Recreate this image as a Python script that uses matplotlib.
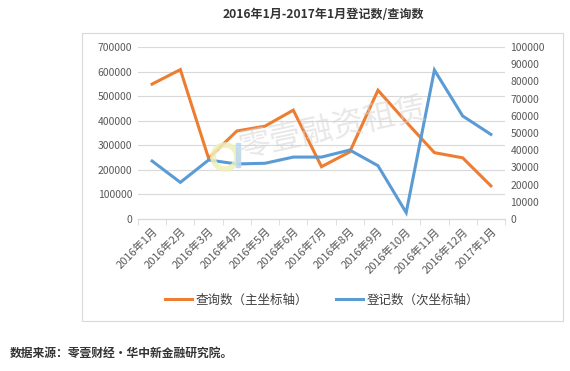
import matplotlib
matplotlib.use("Agg")
import matplotlib.pyplot as plt
from matplotlib.patches import Rectangle, Ellipse
import numpy as np

plt.rcParams['font.family'] = ['Noto Sans CJK SC', 'DejaVu Sans']

months = ["2016年1月", "2016年2月", "2016年3月", "2016年4月", "2016年5月", "2016年6月",
          "2016年7月", "2016年8月", "2016年9月", "2016年10月", "2016年11月", "2016年12月", "2017年1月"]
query_counts = [549000, 608000, 247000, 358000, 378000, 443000, 213000, 273000, 524000, 395000, 270000, 249000, 135000]
register_counts = [33700, 21300, 34300, 32000, 32400, 36000, 36000, 40100, 31000, 3700, 86600, 59900, 49200]
left_ticks = list(range(0, 700001, 100000))
right_ticks = list(range(0, 100001, 10000))

W, H = 570, 371
fig = plt.figure(figsize=(W / 100, H / 100), dpi=100)

# chart border
fig.patches.append(Rectangle((82 / W, 1 - 321 / H), (563 - 82) / W, (321 - 33) / H,
                             transform=fig.transFigure, fill=False, ec='#d9d9d9', lw=0.8))

ax = fig.add_axes([138 / W, 1 - 219 / H, (505 - 138) / W, (219 - 47) / H])
ax2 = ax.twinx()

x = np.arange(len(months))
ax.set_xlim(-0.5, len(months) - 0.5)
ax.set_ylim(0, 700000)
ax2.set_ylim(0, 100000)

ax.set_yticks(left_ticks)
ax.set_yticklabels([str(v) for v in left_ticks])
ax2.set_yticks(right_ticks)
ax2.set_yticklabels([str(v) for v in right_ticks])

ax.grid(axis='y', color='#d9d9d9', lw=0.8)
ax.set_axisbelow(True)

for a in (ax, ax2):
    for s in ('top', 'left', 'right'):
        a.spines[s].set_visible(False)
    a.spines['bottom'].set_color('#d9d9d9')
    a.tick_params(axis='y', length=0, labelsize=7.5, labelcolor='#595959', pad=4)

ax.set_xticks(x)
ax.set_xticklabels(months, rotation=45, ha='right', rotation_mode='anchor',
                   fontsize=8, color='#595959')
ax.tick_params(axis='x', which='major', length=0, pad=5)
ax.set_xticks(np.arange(-0.5, len(months), 1), minor=True)
ax.tick_params(axis='x', which='minor', length=4, color='#d9d9d9', direction='out')

l1, = ax.plot(x, query_counts, color='#ED7D31', lw=2.2, solid_joinstyle='miter', zorder=3)
l2, = ax2.plot(x, register_counts, color='#5B9BD5', lw=2.2, solid_joinstyle='miter', zorder=3)

# watermark
fig.text(333 / W, 1 - 128 / H, "零壹融资租赁", fontsize=23, color='#d4d4d4', alpha=0.55,
         rotation=12, ha='center', va='center', zorder=10)
fig.patches.append(Ellipse((225 / W, 1 - 157 / H), 24 / W, 24 / H, transform=fig.transFigure,
                           fill=False, ec='#eef0b8', lw=4, alpha=0.85, zorder=10))
fig.patches.append(Rectangle((236 / W, 1 - 167 / H), 4 / W, 24 / H, transform=fig.transFigure,
                             color='#bcd9f0', alpha=0.85, zorder=10))

fig.legend([l1, l2], ["查询数（主坐标轴）", "登记数（次坐标轴）"], loc='center',
           bbox_to_anchor=(322 / W, 1 - 300 / H), ncol=2, frameon=False,
           fontsize=9, handlelength=2.2, columnspacing=2.2, handletextpad=0.3,
           labelcolor='#404040')

fig.text(323 / W, 1 - 15 / H, "2016年1月-2017年1月登记数/查询数", fontsize=8.7,
         fontweight='bold', color='#333333', ha='center', va='center')
fig.text(10 / W, 1 - 353 / H, "数据来源：零壹财经•华中新金融研究院。", fontsize=8.5,
         fontweight='bold', color='#333333', ha='left', va='center')

fig.savefig('out.png', dpi=100)
